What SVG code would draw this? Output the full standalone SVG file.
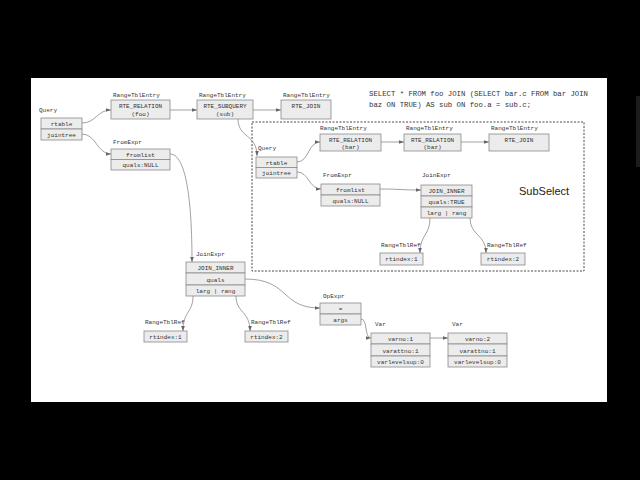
<svg xmlns="http://www.w3.org/2000/svg" width="640" height="480" viewBox="0 0 640 480">
<style>
.bx{fill:#ececec;stroke:#8a8a8a;stroke-width:0.8}
.t{font-family:"Liberation Mono","DejaVu Sans Mono",monospace;font-size:6px;fill:#333;text-anchor:middle}
.l{font-family:"Liberation Mono","DejaVu Sans Mono",monospace;font-size:6px;fill:#333}
.sql{font-family:"Liberation Mono","DejaVu Sans Mono",monospace;font-size:7.3px;fill:#333}
.c{fill:none;stroke:#7a7a7a;stroke-width:0.7;marker-end:url(#ah)}
</style>
<defs>
<marker id="ah" viewBox="0 0 6 6" refX="6" refY="3" markerWidth="5" markerHeight="5" orient="auto" markerUnits="userSpaceOnUse">
<path d="M0,0.8 L6,3 L0,5.2 z" fill="#666"/>
</marker>
</defs>
<rect x="0" y="0" width="640" height="480" fill="#000"/>
<rect x="31" y="78" width="576" height="324" fill="#fff"/>
<rect x="636" y="96" width="4" height="71" fill="#1c1c1c"/>

<text class="sql" x="369" y="96">SELECT * FROM foo JOIN (SELECT bar.c FROM bar JOIN</text>
<text class="sql" x="369" y="107">baz ON TRUE) AS sub ON foo.a = sub.c;</text>

<rect x="252" y="122" width="332" height="149" fill="none" stroke="#333" stroke-width="0.9" stroke-dasharray="2,1.5"/>
<text x="519" y="195" font-family="'Liberation Sans',Arial,sans-serif" font-size="11" fill="#222">SubSelect</text>

<g id="connectors">
<path class="c" d="M82,123 C96,123 97,110 111,110"/>
<path class="c" d="M170,110 L197,110"/>
<path class="c" d="M253,110 L281,110"/>
<path class="c" d="M82,134 C96,134 97,154 111,154"/>
<path class="c" d="M170,154 C186,154 192,200 192,262"/>
<path class="c" d="M238,119 C238,138 257,134 257,156"/>
<path class="c" d="M297,162 C309,162 308,142 320,142"/>
<path class="c" d="M381,142 L404,142"/>
<path class="c" d="M461,142 L489,142"/>
<path class="c" d="M297,172 C309,172 309,189 321,189"/>
<path class="c" d="M380,189 C400,189 400,190 421,190"/>
<path class="c" d="M430,218 C430,236 420,234 420,253"/>
<path class="c" d="M470,218 C470,236 486,234 486,253"/>
<path class="c" d="M193,296 C193,313 183,311 183,331"/>
<path class="c" d="M236,296 C236,313 250,311 250,331"/>
<path class="c" d="M245,279 C290,279 280,308 320,308"/>
<path class="c" d="M361,319 C368,319 364,338 371,338"/>
<path class="c" d="M430,338 L448,338"/>
</g>

<g id="query">
<text class="l" x="39" y="112">Query</text>
<rect class="bx" x="41" y="118" width="41" height="11"/>
<rect class="bx" x="41" y="129" width="41" height="11"/>
<text class="t" x="61.5" y="126">rtable</text>
<text class="t" x="61.5" y="137">jointree</text>
</g>

<g id="rte-foo">
<text class="l" x="113" y="97">RangeTblEntry</text>
<rect class="bx" x="111" y="100" width="59" height="19"/>
<text class="t" x="140.5" y="108">RTE_RELATION</text>
<text class="t" x="140.5" y="116">(foo)</text>
</g>

<g id="rte-sub">
<text class="l" x="199" y="97">RangeTblEntry</text>
<rect class="bx" x="197" y="100" width="56" height="19"/>
<text class="t" x="225" y="108">RTE_SUBQUERY</text>
<text class="t" x="225" y="116">(sub)</text>
</g>

<g id="rte-join">
<text class="l" x="283" y="97">RangeTblEntry</text>
<rect class="bx" x="281" y="100" width="50" height="19"/>
<text class="t" x="306" y="108">RTE_JOIN</text>
</g>

<g id="fromexpr">
<text class="l" x="113" y="144">FromExpr</text>
<rect class="bx" x="111" y="149" width="59" height="10.5"/>
<rect class="bx" x="111" y="159.5" width="59" height="10.5"/>
<text class="t" x="140.5" y="156.5">fromlist</text>
<text class="t" x="140.5" y="167">quals:NULL</text>
</g>

<g id="query2">
<text class="l" x="258" y="150">Query</text>
<rect class="bx" x="256" y="157" width="41" height="10.5"/>
<rect class="bx" x="256" y="167.5" width="41" height="10.5"/>
<text class="t" x="276.5" y="164.5">rtable</text>
<text class="t" x="276.5" y="175">jointree</text>
</g>

<g id="rte-bar">
<text class="l" x="320" y="130">RangeTblEntry</text>
<rect class="bx" x="320" y="134" width="61" height="17"/>
<text class="t" x="350.5" y="141.5">RTE_RELATION</text>
<text class="t" x="350.5" y="148.5">(bar)</text>
</g>

<g id="rte-baz">
<text class="l" x="406" y="130">RangeTblEntry</text>
<rect class="bx" x="404" y="134" width="57" height="17"/>
<text class="t" x="432.5" y="141.5">RTE_RELATION</text>
<text class="t" x="432.5" y="148.5">(baz)</text>
</g>

<g id="rte-join2">
<text class="l" x="491" y="130">RangeTblEntry</text>
<rect class="bx" x="489" y="134" width="60" height="17"/>
<text class="t" x="519" y="141.5">RTE_JOIN</text>
</g>

<g id="fromexpr2">
<text class="l" x="323" y="177">FromExpr</text>
<rect class="bx" x="321" y="184" width="59" height="11"/>
<rect class="bx" x="321" y="195" width="59" height="11"/>
<text class="t" x="350.5" y="192">fromlist</text>
<text class="t" x="350.5" y="203">quals:NULL</text>
</g>

<g id="joinexpr2">
<text class="l" x="422" y="177">JoinExpr</text>
<rect class="bx" x="421" y="185" width="51" height="11"/>
<rect class="bx" x="421" y="196" width="51" height="11"/>
<rect class="bx" x="421" y="207" width="51" height="11"/>
<text class="t" x="446.5" y="193">JOIN_INNER</text>
<text class="t" x="446.5" y="204">quals:TRUE</text>
<text class="t" x="446.5" y="215">larg | rang</text>
</g>

<g id="rtref3">
<text class="l" x="381" y="247">RangeTblRef</text>
<rect class="bx" x="380" y="253" width="43" height="12"/>
<text class="t" x="401.5" y="261">rtindex:1</text>
</g>

<g id="rtref4">
<text class="l" x="487" y="247">RangeTblRef</text>
<rect class="bx" x="481" y="253" width="44" height="12"/>
<text class="t" x="503" y="261">rtindex:2</text>
</g>

<g id="joinexpr">
<text class="l" x="196" y="256">JoinExpr</text>
<rect class="bx" x="186" y="262" width="59" height="11"/>
<rect class="bx" x="186" y="273" width="59" height="12"/>
<rect class="bx" x="186" y="285" width="59" height="11"/>
<text class="t" x="215.5" y="270">JOIN_INNER</text>
<text class="t" x="215.5" y="281.5">quals</text>
<text class="t" x="215.5" y="293">larg | rang</text>
</g>

<g id="rtref1">
<text class="l" x="145" y="324">RangeTblRef</text>
<rect class="bx" x="144" y="331" width="43" height="11"/>
<text class="t" x="165.5" y="339">rtindex:1</text>
</g>

<g id="rtref2">
<text class="l" x="251" y="324">RangeTblRef</text>
<rect class="bx" x="245" y="331" width="43" height="11"/>
<text class="t" x="266.5" y="339">rtindex:2</text>
</g>

<g id="opexpr">
<text class="l" x="323" y="298">OpExpr</text>
<rect class="bx" x="320" y="303" width="41" height="11"/>
<rect class="bx" x="320" y="314" width="41" height="11"/>
<text class="t" x="340.5" y="311">=</text>
<text class="t" x="340.5" y="322">args</text>
</g>

<g id="var1">
<text class="l" x="375" y="326">Var</text>
<rect class="bx" x="371" y="333" width="59" height="11"/>
<rect class="bx" x="371" y="344" width="59" height="12"/>
<rect class="bx" x="371" y="356" width="59" height="11"/>
<text class="t" x="400.5" y="341">varno:1</text>
<text class="t" x="400.5" y="352.5">varattno:1</text>
<text class="t" x="400.5" y="364">varlevelsup:0</text>
</g>

<g id="var2">
<text class="l" x="452" y="326">Var</text>
<rect class="bx" x="448" y="333" width="59" height="11"/>
<rect class="bx" x="448" y="344" width="59" height="12"/>
<rect class="bx" x="448" y="356" width="59" height="11"/>
<text class="t" x="477.5" y="341">varno:2</text>
<text class="t" x="477.5" y="352.5">varattno:1</text>
<text class="t" x="477.5" y="364">varlevelsup:0</text>
</g>
</svg>
